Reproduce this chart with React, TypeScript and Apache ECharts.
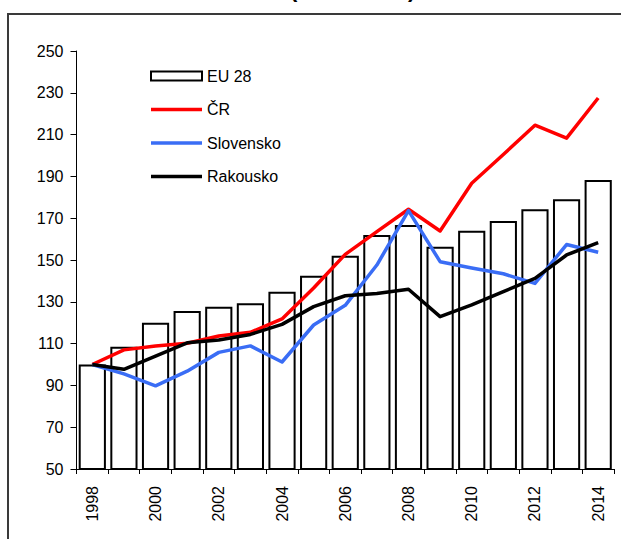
import React, { useEffect, useRef } from "react";
import * as echarts from "echarts";

const years = ["1998","1999","2000","2001","2002","2003","2004","2005","2006","2007","2008","2009","2010","2011","2012","2013","2014"];
const eu28 = [100, 108.5, 120, 125.6, 127.6, 129.3, 134.8, 142.5, 152, 162, 166.8, 156.3, 164, 168.7, 174.3, 179.1, 188.3];
const cr = [100, 107, 108.9, 110.2, 113.6, 115.4, 121.8, 136.6, 152.7, 163.6, 174.3, 163.9, 186.7, 200.5, 214.5, 208.3, 227.5];
const slovensko = [100, 95.5, 89.8, 96.8, 105.8, 108.9, 101.2, 118.9, 128.3, 147.6, 173.6, 149.2, 146.2, 143.4, 138.8, 157.4, 153.7];
const rakousko = [100, 97.7, 104, 110.4, 111.7, 114.4, 119.2, 127.7, 132.9, 134, 136, 122.9, 128.5, 134.9, 141.2, 152.4, 158.3];
const seriesNames = ["EU 28", "ČR", "Slovensko", "Rakousko"];
const titleText = "(1998 = 100)";

export default function App() {
  const ref = useRef<HTMLDivElement>(null);
  useEffect(() => {
    if (!ref.current) return;
    const chart = echarts.init(ref.current, null, { renderer: "svg" });
    const font = "Arial, 'Liberation Sans', sans-serif";
    const lineIcon = "path://M0,0L52,0L52,3.5L0,3.5Z";
    const lineSeries = (name: string, data: number[], color: string) => ({
      name,
      type: "line",
      data,
      symbol: "none",
      showSymbol: false,
      lineStyle: { color, width: 3.5, join: "round" },
      itemStyle: { color },
      z: 3,
    });
    chart.setOption({
      animation: false,
      backgroundColor: "#ffffff",
      textStyle: { fontFamily: font },
      grid: { left: 76.5, right: 7, top: 51, bottom: 70, containLabel: false },
      legend: {
        orient: "vertical",
        left: 145,
        top: 62,
        itemWidth: 51,
        itemHeight: 9,
        itemGap: 15.5,
        symbolKeepAspect: true,
        textStyle: { fontSize: 16, color: "#000", fontFamily: font, lineHeight: 18, padding: [0, 0, 0, 0] },
        data: [
          { name: seriesNames[0], icon: "rect", itemStyle: { color: "#fff", borderColor: "#000", borderWidth: 2 } },
          { name: seriesNames[1], icon: lineIcon, itemStyle: { color: "#ff0000", borderWidth: 0 } },
          { name: seriesNames[2], icon: lineIcon, itemStyle: { color: "#3a6df5", borderWidth: 0 } },
          { name: seriesNames[3], icon: lineIcon, itemStyle: { color: "#000000", borderWidth: 0 } },
        ],
      },
      xAxis: {
        type: "category",
        data: years,
        boundaryGap: true,
        axisLine: { lineStyle: { color: "#000", width: 1 } },
        axisTick: { show: true, length: 5, alignWithLabel: false, interval: 0, lineStyle: { color: "#000" } },
        axisLabel: { rotate: 90, interval: 1, margin: 17, fontSize: 16, color: "#000", fontFamily: font },
        splitLine: { show: false },
      },
      yAxis: {
        type: "value",
        min: 50,
        max: 250,
        interval: 20,
        axisLine: { show: true, lineStyle: { color: "#000", width: 1 } },
        axisTick: { show: true, length: 6, lineStyle: { color: "#000" } },
        axisLabel: { margin: 13, fontSize: 16, color: "#000", fontFamily: font },
        splitLine: { show: false },
      },
      series: [
        {
          name: seriesNames[0],
          type: "bar",
          data: eu28,
          barCategoryGap: "14%",
          itemStyle: { color: "#ffffff", borderColor: "#000", borderWidth: 2 },
          z: 2,
        },
        lineSeries(seriesNames[1], cr, "#ff0000"),
        lineSeries(seriesNames[2], slovensko, "#3a6df5"),
        lineSeries(seriesNames[3], rakousko, "#000000"),
      ],
      graphic: [
        {
          type: "text",
          left: 290,
          top: -22,
          style: { text: titleText, fontSize: 22, fontWeight: "bold", fill: "#000", fontFamily: font },
          z: 10,
        },
        {
          type: "line",
          shape: { x1: 7, y1: 14, x2: 621, y2: 14 },
          style: { stroke: "#3a3a3a", lineWidth: 2 },
        },
        {
          type: "line",
          shape: { x1: 8, y1: 14, x2: 8, y2: 539 },
          style: { stroke: "#3a3a3a", lineWidth: 2 },
        },
      ],
    });
    return () => chart.dispose();
  }, []);
  return (
    <div
      ref={ref}
      style={{ position: "fixed", left: 0, top: 0, width: 621, height: 539, background: "#fff" }}
    />
  );
}
